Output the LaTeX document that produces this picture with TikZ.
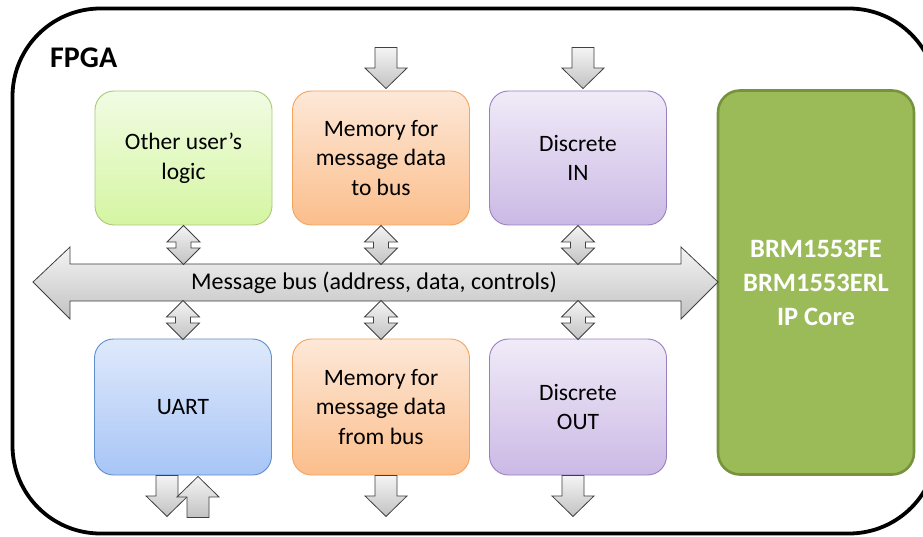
\documentclass[tikz,border=0pt]{standalone}
\usepackage{fontspec}
\setmainfont{Carlito}
\usetikzlibrary{calc}
\definecolor{gbord}{HTML}{A9C97A}
\definecolor{gtop}{HTML}{F1FCE3}
\definecolor{gbot}{HTML}{D5F5A2}
\definecolor{obord}{HTML}{F5A45E}
\definecolor{otop}{HTML}{FDE8D8}
\definecolor{obot}{HTML}{FBBE8B}
\definecolor{pbord}{HTML}{9A80C0}
\definecolor{ptop}{HTML}{F0EBF8}
\definecolor{pbot}{HTML}{CBB9E5}
\definecolor{bbord}{HTML}{5F8FCC}
\definecolor{btop}{HTML}{DFE9FB}
\definecolor{bbot}{HTML}{A7C5F6}
\definecolor{corefill}{HTML}{9BBB59}
\definecolor{corebord}{HTML}{76923C}
\definecolor{atop}{HTML}{F4F4F4}
\definecolor{abot}{HTML}{C2C2C2}
\tikzset{
  blk/.style={rounded corners=19pt, minimum width=177pt, minimum height=134pt,
    align=center, font=\fontsize{23.5}{29.5}\selectfont, line width=0.9pt, inner sep=0pt},
  greenbox/.style={blk, draw=gbord, top color=gtop, bottom color=gbot},
  orangebox/.style={blk, draw=obord, top color=otop, bottom color=obot},
  purplebox/.style={blk, draw=pbord, top color=ptop, bottom color=pbot},
  bluebox/.style={blk, draw=bbord, top color=btop, bottom color=bbot},
  blockarrow/.style={draw=black!75, line width=0.8pt, top color=atop, bottom color=abot, line join=miter},
  downarr/.pic={\draw[blockarrow] (-11,0) -- (11,0) -- (11,20.5) -- (21,20.5) -- (0,41) -- (-21,20.5) -- (-11,20.5) -- cycle;},
  uparr/.pic={\draw[blockarrow] (-11,0) -- (11,0) -- (11,-20.5) -- (21,-20.5) -- (0,-41) -- (-21,-20.5) -- (-11,-20.5) -- cycle;},
  bidir/.pic={\draw[blockarrow] (0,0) -- (16.5,16.5) -- (7.5,16.5) -- (7.5,22.5) -- (16.5,22.5) -- (0,39) -- (-16.5,22.5) -- (-7.5,22.5) -- (-7.5,16.5) -- (-16.5,16.5) -- cycle;}
}
\begin{document}
\begin{tikzpicture}[x=1pt,y=-1pt]
\useasboundingbox (0,0) rectangle (923,537);
\clip (0,0) rectangle (923,537);
\fill[white] (0,0) rectangle (923,537);
% FPGA frame
\draw[line width=3.8pt, rounded corners=88pt] (12.5,8.5) rectangle (937,533.5);
\node[anchor=base west, font=\fontsize{30}{32}\selectfont\bfseries, inner sep=0pt] (fpga) at (50,68) {FPGA};

% blocks
\node[greenbox] (oul) at (183.5,158) {Other user’s\\logic};
\node[orangebox] (mtb) at (381,158) {Memory for\\message data\\to bus};
\node[purplebox] (din) at (578,158) {Discrete\\IN};
\node[bluebox, minimum height=136pt] (uart) at (183,407) {UART};
\node[orangebox, minimum height=136pt] (mfb) at (381,407) {Memory for\\message data\\from bus};
\node[purplebox, minimum height=136pt] (dout) at (578,407) {Discrete\\OUT};
\node[rounded corners=22pt, minimum width=196pt, minimum height=384pt, fill=corefill, draw=corebord,
  line width=2.6pt, text=white, align=center, font=\fontsize{26.5}{34}\selectfont\bfseries] (core) at (816,282.5)
  {BRM1553FE\\BRM1553ERL\\IP Core};

% message bus
\coordinate (busL) at (33,282);
\coordinate (busR) at (718,282);
\draw[blockarrow] (busL) -- (70,247) -- (70,264) -- (681,264) -- (681,247) -- (busR)
  -- (681,319) -- (681,301) -- (70,301) -- (70,319) -- cycle;
\node[font=\fontsize{24}{26}\selectfont, inner sep=0pt] (buslabel) at (374,283) {Message bus (address, data, controls)};

% bus connections
\pic at (oul.south) {bidir};
\pic at (mtb.south) {bidir};
\pic at (din.south) {bidir};
\pic at ($(uart.north)+(0,-38)$) {bidir};
\pic at ($(mfb.north)+(0,-38)$) {bidir};
\pic at ($(dout.north)+(0,-38)$) {bidir};

% external inputs/outputs
\pic at ($(mtb.north)+(5,-43)$) {downarr};
\pic at ($(din.north)+(5,-43)$) {downarr};
\pic at ($(uart.south)+(-16,0)$) {downarr};
\pic at ($(uart.south)+(15,42)$) {uparr};
\pic at ($(mfb.south)+(5,0)$) {downarr};
\pic at ($(dout.south)+(-5,0)$) {downarr};
\end{tikzpicture}
\end{document}
